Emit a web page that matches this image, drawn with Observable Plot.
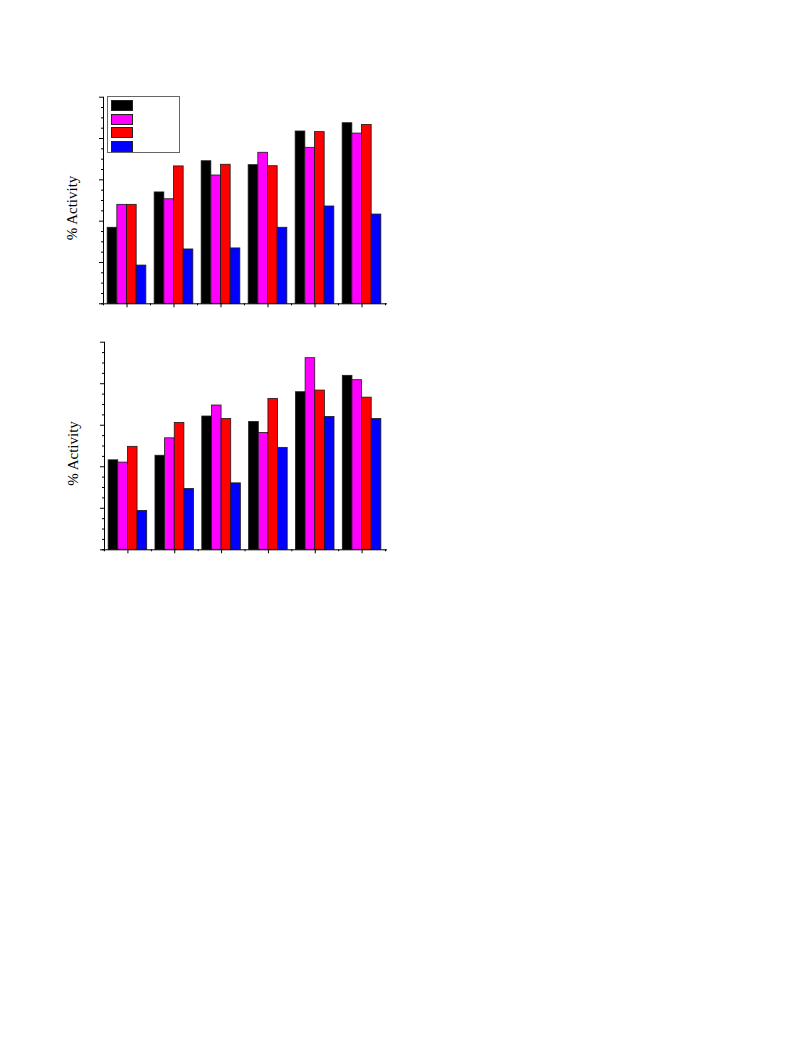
<!DOCTYPE html>
<html>
<head>
<meta charset="utf-8">
<script src="https://cdn.jsdelivr.net/npm/d3@7"></script>
<script src="https://cdn.jsdelivr.net/npm/@observablehq/plot@0.6"></script>
<style>
  html, body { margin: 0; padding: 0; background: #fff; }
  #page { position: relative; width: 793px; height: 1057px; background: #fff; }
  .panel { position: absolute; left: 0; }
  .legend { position: absolute; left: 107px; top: 96px; width: 73px; height: 57px;
            border: 1px solid #666; background: #fff; box-sizing: border-box; }
  .sw { position: absolute; left: 3px; width: 22px; height: 11px; border: 1px solid #222; box-sizing: border-box; }
</style>
</head>
<body>
<div id="page"></div>
<script>
// ---- data ----
const groups = ["1", "2", "3", "4", "5", "6"];
const series = ["A", "B", "C", "D"];
const colors = ["#000000", "#ff00ff", "#ff0000", "#0000ff"];

// top panel values (% Activity), one array per series, by group
const topA = [36.8, 53.9, 69.0, 67.1, 83.4, 87.4];
const topB = [47.9, 50.6, 62.1, 73.1, 75.5, 82.4];
const topC = [47.9, 66.5, 67.3, 66.6, 83.1, 86.6];
const topD = [18.5, 26.3, 26.8, 36.8, 47.1, 43.2];

// bottom panel values
const botA = [43.1, 45.3, 64.2, 61.6, 75.9, 83.8];
const botB = [42.0, 53.7, 69.5, 56.3, 92.3, 81.7];
const botC = [49.6, 61.1, 63.0, 72.7, 76.7, 73.3];
const botD = [18.7, 29.3, 32.0, 49.1, 64.0, 63.0];

const yMajor = [0, 20, 40, 60, 80, 100];
const yMinor = d3.range(0, 101, 5).filter(v => v % 20 !== 0);
const yLabel = "% Activity";

// ---- layout helpers ----
const groupPad = 0.0885;          // gap at each side of a group (fraction of slot)
const barW = (1 - 2 * groupPad) / series.length;
const serif = "'Liberation Serif', 'Times New Roman', 'DejaVu Serif', serif";

function table(arrs) {
  const rows = [];
  groups.forEach((g, gi) => {
    series.forEach((s, si) => {
      const x1 = gi + groupPad + si * barW;
      rows.push({group: g, s, x1, x2: x1 + barW, v: arrs[si][gi]});
    });
  });
  return rows;
}

function panel(arrs, opts) {
  const data = table(arrs);
  return Plot.plot({
    width: 400,
    height: opts.height,
    marginLeft: opts.marginLeft,
    marginRight: opts.marginRight,
    marginTop: opts.marginTop,
    marginBottom: opts.marginBottom,
    style: {fontFamily: serif, fontSize: "14px", background: "transparent", color: "#000"},
    x: {domain: [0, groups.length]},
    y: {domain: [0, 100]},
    color: {domain: series, range: colors},
    marks: [
      Plot.rectY(data, {x1: "x1", x2: "x2", y1: 0, y2: "v", fill: "s", stroke: "#1a1a1a", strokeWidth: 0.8}),
      Plot.ruleY([0], {stroke: "#000", insetLeft: -2, insetRight: -2}),
      Plot.ruleX([0], {stroke: "#000"}),
      Plot.axisX({ticks: d3.range(0.5, groups.length, 1), tickSize: 4, tickFormat: () => "", label: null}),
      Plot.axisX({ticks: d3.range(0, groups.length + 1, 1), tickSize: 2, tickFormat: () => "", label: null}),
      Plot.axisY({ticks: yMajor, tickSize: 4, tickFormat: () => "", label: null}),
      Plot.axisY({ticks: yMinor, tickSize: 2, tickFormat: () => "", label: null}),
      Plot.text([yLabel], {text: d => d, frameAnchor: "left", rotate: -90, dx: -31.5, dy: 7.5,
                           textAnchor: "middle", fill: "#000", fontSize: 15, fontFamily: serif})
    ]
  });
}

const page = document.getElementById("page");

const topPanel = panel([topA, topB, topC, topD],
  {height: 320, marginLeft: 103, marginRight: 15, marginTop: 96.7, marginBottom: 16.7});
topPanel.classList.add("panel");
topPanel.style.top = "0px";
page.appendChild(topPanel);

const bottomPanel = panel([botA, botB, botC, botD],
  {height: 250, marginLeft: 104, marginRight: 15, marginTop: 21.7, marginBottom: 20.7});
bottomPanel.classList.add("panel");
bottomPanel.style.top = "320px";
page.appendChild(bottomPanel);

// legend (swatches only, as in the reference)
const legend = document.createElement("div");
legend.className = "legend";
series.forEach((s, i) => {
  const sw = document.createElement("div");
  sw.className = "sw";
  sw.style.top = (3 + i * 13.6) + "px";
  sw.style.background = colors[i];
  legend.appendChild(sw);
});
page.appendChild(legend);
</script>
</body>
</html>
